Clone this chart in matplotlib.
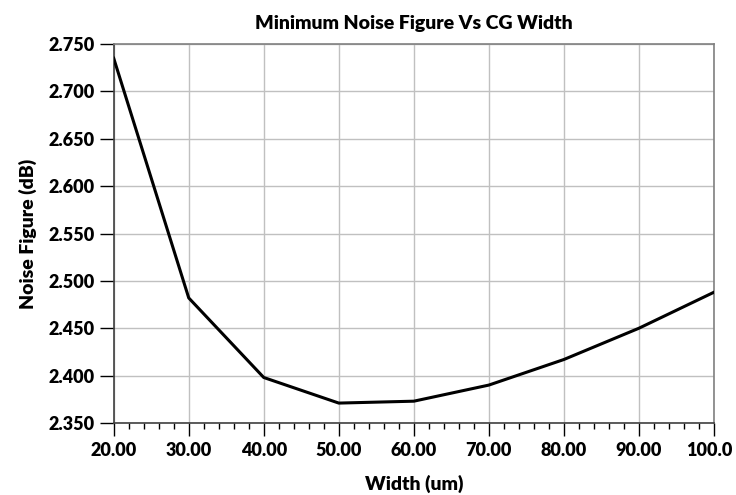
import numpy as np
import matplotlib
matplotlib.use("Agg")
import matplotlib.pyplot as plt
from matplotlib.ticker import MultipleLocator

# Data
width_um = [20, 30, 40, 50, 60, 70, 80, 90, 100]
noise_figure_db = [2.735, 2.482, 2.398, 2.371, 2.373, 2.390, 2.417, 2.450, 2.488]

x_ticks = [20, 30, 40, 50, 60, 70, 80, 90, 100]
x_tick_labels = ['20.00', '30.00', '40.00', '50.00', '60.00', '70.00', '80.00', '90.00', '100.0']
y_ticks = [2.350, 2.400, 2.450, 2.500, 2.550, 2.600, 2.650, 2.700, 2.750]
y_tick_labels = ['2.350', '2.400', '2.450', '2.500', '2.550', '2.600', '2.650', '2.700', '2.750']

plt.rcParams['font.family'] = ['Lato', 'DejaVu Sans']
plt.rcParams['font.weight'] = 'heavy'

fig = plt.figure(figsize=(7.36, 4.95), dpi=100)
ax = fig.add_axes([0.1545, 0.1455, 0.8155, 0.7655])

ax.plot(width_um, noise_figure_db, color='black', linewidth=2.2, zorder=3)

ax.set_xlim(20, 100)
ax.set_ylim(2.350, 2.750)
ax.set_xticks(x_ticks)
# last label is drawn separately so it sits inside the figure like the reference
ax.set_xticklabels(x_tick_labels[:-1] + [''])
ax.xaxis.set_minor_locator(MultipleLocator(2))
ax.set_yticks(y_ticks)
ax.set_yticklabels(y_tick_labels)

ax.grid(True, which='major', color='#c0c0c0', linewidth=1)
ax.set_axisbelow(True)

for side in ['left', 'bottom']:
    ax.spines[side].set_color('#404040')
    ax.spines[side].set_linewidth(1.2)
for side in ['top', 'right']:
    ax.spines[side].set_color('#808080')
    ax.spines[side].set_linewidth(1.2)

ax.tick_params(axis='x', which='major', direction='out', length=9, width=1, pad=5, labelsize=13)
ax.tick_params(axis='x', which='minor', direction='out', length=4.5, width=1)
ax.tick_params(axis='y', which='major', direction='out', length=10, width=1, pad=4, labelsize=13)

ax.annotate(x_tick_labels[-1], xy=(x_ticks[-1], 0), xycoords=('data', 'axes fraction'),
            xytext=(13, -14), textcoords='offset points', ha='right', va='top',
            fontsize=13, fontweight='heavy')

ax.set_title('Minimum Noise Figure Vs CG Width', fontsize=14, fontweight='heavy', pad=11)
ax.set_xlabel('Width (um)', fontsize=14, fontweight='heavy', labelpad=11)
ax.set_ylabel('Noise Figure (dB)', fontsize=14, fontweight='heavy', labelpad=8)

fig.savefig('out.png', dpi=100)
